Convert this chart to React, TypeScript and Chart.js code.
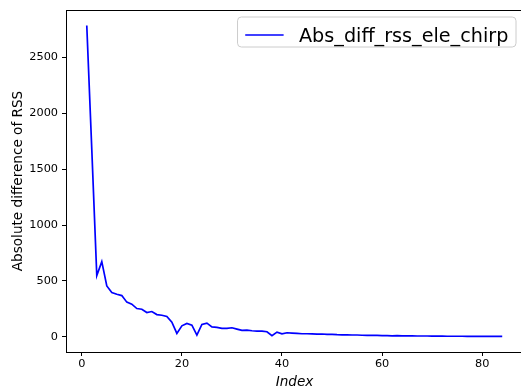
import React, { useEffect, useRef } from "react";
import { Chart, registerables } from "chart.js";

Chart.register(...registerables);

const seriesLabel = "Abs_diff_rss_ele_chirp";
const xAxisTitle = "Index";
const yAxisTitle = "Absolute difference of RSS";

const indices = [
  1, 2, 3, 4, 5, 6, 7, 8, 9, 10, 11, 12, 13, 14, 15, 16, 17, 18, 19, 20,
  21, 22, 23, 24, 25, 26, 27, 28, 29, 30, 31, 32, 33, 34, 35, 36, 37, 38, 39, 40,
  41, 42, 43, 44, 45, 46, 47, 48, 49, 50, 51, 52, 53, 54, 55, 56, 57, 58, 59, 60,
  61, 62, 63, 64, 65, 66, 67, 68, 69, 70, 71, 72, 73, 74, 75, 76, 77, 78, 79, 80,
  81, 82, 83, 84,
];

const absDiffRss = [
  2786, 1680, 548, 673, 455, 396, 381, 369, 310, 292, 253, 247, 217, 226, 199, 193, 182, 131, 30, 98,
  119, 104, 15, 110, 122, 89, 84, 75, 75, 81, 69, 57, 60, 54, 51, 51, 45, 9, 42, 27,
  36, 33, 30, 27, 27, 26, 24, 25, 22, 21, 19, 18, 17, 16, 16, 14, 13, 13, 12, 11,
  10, 9, 10, 9, 8, 8, 7, 7, 7, 6, 6, 6, 5, 5, 5, 5, 4, 4, 4, 4,
  3, 3, 3, 3,
];

const yTickValues = [0, 500, 1000, 1500, 2000, 2500];
const xTickValues = [0, 20, 40, 60, 80];

const FONT = "DejaVu Sans";

export default function App() {
  const canvasRef = useRef<HTMLCanvasElement | null>(null);

  useEffect(() => {
    const canvas = canvasRef.current;
    if (!canvas) return;

    const xs = indices;
    const ys = absDiffRss;
    const xMinD = Math.min(...xs);
    const xMaxD = Math.max(...xs);
    const yMinD = Math.min(...ys);
    const yMaxD = Math.max(...ys);
    const xm = (xMaxD - xMinD) * 0.05;
    const ym = (yMaxD - yMinD) * 0.05;

    const framePlugin = {
      id: "frameAndLegend",
      afterDraw(chart: any) {
        const { ctx, chartArea: a } = chart;
        ctx.save();
        ctx.strokeStyle = "#000";
        ctx.lineWidth = 1;
        ctx.strokeRect(
          Math.round(a.left) + 0.5,
          Math.round(a.top) + 0.5,
          Math.round(a.right) - Math.round(a.left),
          Math.round(a.bottom) - Math.round(a.top)
        );

        // legend
        const fs = 19.2;
        ctx.font = `${fs}px "${FONT}"`;
        const tw = ctx.measureText(seriesLabel).width;
        const pad = 0.4 * fs;
        const handle = 2 * fs;
        const gap = 0.8 * fs;
        const w = pad + handle + gap + tw + pad;
        const h = 30;
        const right = a.right - 7;
        const top = a.top + 7;
        const left = right - w;
        const r = 3.8;
        ctx.beginPath();
        ctx.moveTo(left + r, top);
        ctx.lineTo(left + w - r, top);
        ctx.arcTo(left + w, top, left + w, top + r, r);
        ctx.lineTo(left + w, top + h - r);
        ctx.arcTo(left + w, top + h, left + w - r, top + h, r);
        ctx.lineTo(left + r, top + h);
        ctx.arcTo(left, top + h, left, top + h - r, r);
        ctx.lineTo(left, top + r);
        ctx.arcTo(left, top, left + r, top, r);
        ctx.closePath();
        ctx.fillStyle = "rgba(255,255,255,0.8)";
        ctx.fill();
        ctx.strokeStyle = "#cccccc";
        ctx.lineWidth = 1;
        ctx.stroke();

        ctx.beginPath();
        ctx.strokeStyle = "#0000ff";
        ctx.lineWidth = 1.7;
        ctx.moveTo(left + pad, top + 18);
        ctx.lineTo(left + pad + handle, top + 18);
        ctx.stroke();

        ctx.fillStyle = "#000";
        ctx.textBaseline = "alphabetic";
        ctx.textAlign = "left";
        ctx.fillText(seriesLabel, left + pad + handle + gap, top + 25);
        ctx.restore();
      },
    };

    const chart = new Chart(canvas, {
      type: "line",
      data: {
        datasets: [
          {
            label: seriesLabel,
            data: xs.map((x, i) => ({ x, y: ys[i] })),
            borderColor: "#0000ff",
            backgroundColor: "#0000ff",
            borderWidth: 1.7,
            pointRadius: 0,
            tension: 0,
            fill: false,
          },
        ],
      },
      options: {
        animation: false,
        responsive: false,
        devicePixelRatio: 1,
        layout: { padding: { left: 0, top: 10, right: 17, bottom: 0 } },
        plugins: {
          legend: { display: false },
          tooltip: { enabled: false },
        },
        scales: {
          x: {
            type: "linear",
            min: xMinD - xm,
            max: xMaxD + xm,
            afterBuildTicks: (scale: any) => {
              scale.ticks = xTickValues.map((v) => ({ value: v }));
            },
            afterFit: (scale: any) => {
              scale.height = 37;
            },
            border: { display: false },
            grid: {
              display: true,
              drawOnChartArea: false,
              drawTicks: true,
              tickLength: 4,
              color: "#000",
              lineWidth: 1,
            },
            ticks: {
              color: "#000",
              padding: 2,
              autoSkip: false,
              maxRotation: 0,
              font: { family: FONT, size: 11.3, lineHeight: 1 },
              callback: (v: any) => String(v),
            },
            title: {
              display: true,
              text: xAxisTitle,
              color: "#000",
              font: { family: FONT, size: 13.6, style: "italic", lineHeight: 1 },
              padding: { top: 0, bottom: 0 },
            },
          },
          y: {
            type: "linear",
            min: yMinD - ym,
            max: yMaxD + ym,
            afterBuildTicks: (scale: any) => {
              scale.ticks = yTickValues.map((v) => ({ value: v }));
            },
            afterFit: (scale: any) => {
              scale.width = 66;
            },
            border: { display: false },
            grid: {
              display: true,
              drawOnChartArea: false,
              drawTicks: true,
              tickLength: 4,
              color: "#000",
              lineWidth: 1,
            },
            ticks: {
              color: "#000",
              padding: 4,
              autoSkip: false,
              font: { family: FONT, size: 11.3, lineHeight: 1 },
              callback: (v: any) => String(v),
            },
            title: {
              display: true,
              text: yAxisTitle,
              color: "#000",
              font: { family: FONT, size: 13.6, lineHeight: 1 },
              padding: { top: 11.5, bottom: 0 },
            },
          },
        },
      },
      plugins: [framePlugin],
    });

    return () => {
      chart.destroy();
    };
  }, []);

  return (
    <div
      style={{
        position: "fixed",
        left: 0,
        top: 0,
        width: 521,
        height: 389,
        overflow: "hidden",
        background: "#fff",
      }}
    >
      <canvas
        ref={canvasRef}
        width={540}
        height={389}
        style={{ width: 540, height: 389, display: "block" }}
      />
    </div>
  );
}
